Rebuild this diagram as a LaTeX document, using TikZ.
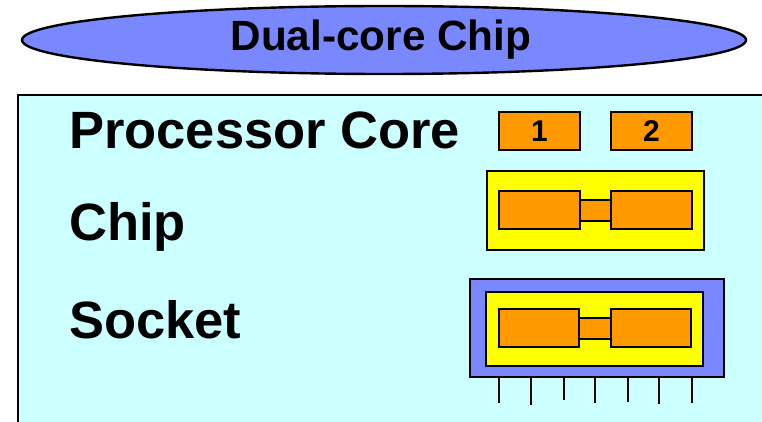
\documentclass[tikz,border=0pt]{standalone}
\usepackage{fontspec}
\setmainfont{Liberation Sans}
\usetikzlibrary{shapes.geometric}
\definecolor{periw}{RGB}{122,136,255}
\definecolor{paleCyan}{RGB}{204,255,255}
\definecolor{coreOrange}{RGB}{255,153,0}
\definecolor{chipYellow}{RGB}{255,255,0}
\tikzset{
  part/.style={draw=black, line width=2.9pt},
  corebox/.style={part, fill=coreOrange},
  label/.style={anchor=base west, inner sep=0pt, font=\fontsize{52.5}{52.5}\selectfont\bfseries},
  num/.style={inner sep=0pt, font=\fontsize{30}{30}\selectfont\bfseries},
  pin/.style={line width=2.6pt},
}
\begin{document}
\begin{tikzpicture}[x=1pt,y=-1pt]
\useasboundingbox (0,0) rectangle (762,422);
% title ellipse
\node[ellipse, draw=black, line width=2.4pt, fill=periw, minimum width=724pt, minimum height=68pt, inner sep=0pt] (title) at (384,40) {};
\node[anchor=base, inner sep=0pt, font=\fontsize{42.3}{42.3}\selectfont\bfseries] (titletext) at (381,51) {Dual-core Chip};
% main panel
\draw[line width=2.8pt, fill=paleCyan] (18,95) rectangle (790,450);
% labels
\node[label] (lcore) at (69,149) {Processor Core};
\node[label] (lchip) at (69,240) {Chip};
\node[label] (lsock) at (69,338) {Socket};
% processor cores
\draw[corebox] (499,112) rectangle (580,150);
\draw[corebox] (611,112) rectangle (692,150);
\node[num] (n1) at (539.5,131) {1};
\node[num] (n2) at (651.5,131) {2};
% chip
\draw[part, fill=chipYellow] (487,171) rectangle (704,250);
\draw[corebox] (580,200) rectangle (611,221);
\draw[corebox] (499,191) rectangle (580,229);
\draw[corebox] (611,191) rectangle (692,229);
% socket
\draw[part, fill=periw] (470,279) rectangle (724,377);
\draw[part, fill=chipYellow] (486,292) rectangle (703,366);
\draw[corebox] (579,318) rectangle (611,339);
\draw[corebox] (499,309) rectangle (579,347);
\draw[corebox] (611,309) rectangle (691,347);
% pins
\foreach \px/\py in {499/403,531/405,564/400,595/403,628/402,659/404,692/403}
  \draw[pin] (\px,377) -- (\px,\py);
\end{tikzpicture}
\end{document}
